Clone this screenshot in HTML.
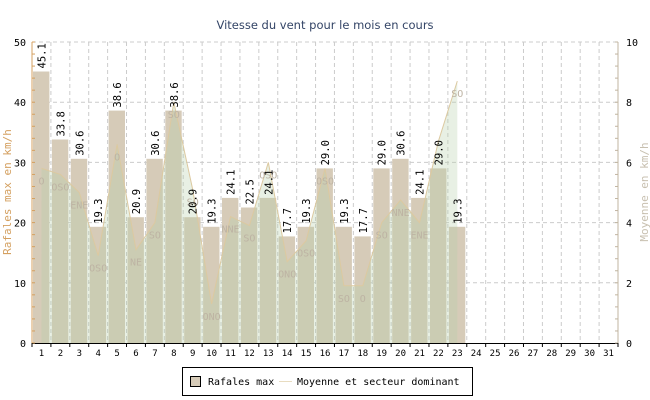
<!DOCTYPE html>
<html><head><meta charset="utf-8"><style>
html,body{margin:0;padding:0;background:#fff;width:650px;height:400px;overflow:hidden}
svg{display:block}
text{font-family:"DejaVu Sans Mono","Liberation Mono",monospace}
</style></head><body>
<svg id="c" width="650" height="400" xmlns="http://www.w3.org/2000/svg"></svg>
<script>
var L=32,R=618,T=42,B=343,W=(R-L)/31,H=B-T;
var gust=[45.1,33.8,30.6,19.3,38.6,20.9,30.6,38.6,20.9,19.3,24.1,22.5,24.1,17.7,19.3,29.0,19.3,17.7,29.0,30.6,24.1,29.0,19.3];
var avg=[5.8,5.6,5.0,2.9,6.6,3.1,4.0,8.0,5.1,1.3,4.2,3.9,6.0,2.7,3.4,5.8,1.9,1.9,4.0,4.75,4.0,6.7,8.7];
var dir=["O","OSO","ENE","OSO","O","NE","SO","SO","SO","ONO","NNE","SO","OSO","ONO","OSO","OSO","SO","O","SO","NNE","ENE","","SO"];
var s='';
s+='<text x="325" y="29" font-size="11.5" fill="#334466" text-anchor="middle" style="font-family:\'DejaVu Sans\',sans-serif">Vitesse du vent pour le mois en cours</text>';
for(var i=1;i<=5;i++){var y=B-i*H/5;s+='<line x1="'+L+'" x2="'+R+'" y1="'+y+'" y2="'+y+'" stroke="#ccc" stroke-dasharray="4,3"/>';}
for(var i=1;i<31;i++){var x=L+i*W;s+='<line x1="'+x+'" x2="'+x+'" y1="'+T+'" y2="'+B+'" stroke="#ccc" stroke-dasharray="4,3"/>';}
for(var i=0;i<gust.length;i++){var x=L+i*W+1,h=gust[i]/50*H;s+='<rect x="'+x.toFixed(1)+'" y="'+(B-h).toFixed(1)+'" width="'+(W-2.5).toFixed(1)+'" height="'+h.toFixed(1)+'" fill="#d6cbb8"/>';}
var pts=[];for(var i=0;i<avg.length;i++){pts.push([(L+(i+.5)*W),B-avg[i]/10*H]);}
var d='M'+pts[0][0]+','+B;pts.forEach(function(p){d+=' L'+p[0].toFixed(1)+','+p[1].toFixed(1);});d+=' L'+pts[pts.length-1][0]+','+B+'Z';
s+='<path d="'+d+'" fill="rgba(181,207,168,0.31)"/>';
s+='<polyline points="'+pts.map(function(p){return p[0].toFixed(1)+','+p[1].toFixed(1)}).join(' ')+'" fill="none" stroke="#dcc9a0" stroke-width="1"/>';
for(var i=0;i<avg.length;i++){if(!dir[i])continue;s+='<text x="'+pts[i][0].toFixed(1)+'" y="'+(pts[i][1]+16).toFixed(1)+'" font-size="10" fill="#bdb3a3" text-anchor="middle">'+dir[i]+'</text>';}
for(var i=0;i<gust.length;i++){var cx=L+(i+.5)*W+4,y=B-gust[i]/50*H-3;s+='<text transform="translate('+cx.toFixed(1)+','+y.toFixed(1)+') rotate(-90)" font-size="10.5" fill="#000">'+gust[i].toFixed(1)+'</text>';}
s+='<line x1="'+L+'" x2="'+L+'" y1="'+T+'" y2="'+B+'" stroke="#d4a060"/>';
s+='<line x1="'+R+'" x2="'+R+'" y1="'+T+'" y2="'+B+'" stroke="#c0b4a0"/>';
s+='<line x1="'+L+'" x2="'+R+'" y1="'+(B+0.5)+'" y2="'+(B+0.5)+'" stroke="#000"/>';
for(var i=0;i<=25;i++){var y=B-i*H/25;s+='<line x1="'+L+'" x2="'+(L+3)+'" y1="'+y+'" y2="'+y+'" stroke="#d4a060"/>';s+='<line x1="'+R+'" x2="'+(R-3)+'" y1="'+y+'" y2="'+y+'" stroke="#c0b4a0"/>';}
for(var i=0;i<=5;i++){var y=B-i*H/5;s+='<text x="'+(L-6)+'" y="'+(y+4)+'" font-size="10" fill="#000" text-anchor="end">'+(i*10)+'</text>';s+='<text x="'+(R+8)+'" y="'+(y+4)+'" font-size="10" fill="#000">'+(i*2)+'</text>';}
for(var i=0;i<=31;i++){var x=L+i*W;s+='<line x1="'+x+'" x2="'+x+'" y1="'+B+'" y2="'+(B+4)+'" stroke="#000"/>';}
for(var i=0;i<31;i++){var x=L+(i+.5)*W;s+='<text x="'+x.toFixed(1)+'" y="'+(B+13)+'" font-size="9" fill="#000" text-anchor="middle">'+(i+1)+'</text>';}
s+='<text transform="translate(11,192) rotate(-90)" font-size="11" fill="#d4a060" text-anchor="middle">Rafales max en km/h</text>';
s+='<text transform="translate(648,192) rotate(-90)" font-size="11" fill="#c8c0b0" text-anchor="middle">Moyenne en km/h</text>';
s+='<rect x="182.5" y="367.5" width="290" height="28" fill="#fff" stroke="#000"/>';
s+='<rect x="190.5" y="376.5" width="10" height="10" fill="#d6cbb8" stroke="#000"/>';
s+='<text x="208" y="385" font-size="10" fill="#000">Rafales max</text>';
s+='<line x1="279" x2="292" y1="381.5" y2="381.5" stroke="#e8dcc0"/>';
s+='<text x="297" y="385" font-size="10" fill="#000">Moyenne et secteur dominant</text>';
document.getElementById('c').innerHTML=s;
</script>
</body></html>
